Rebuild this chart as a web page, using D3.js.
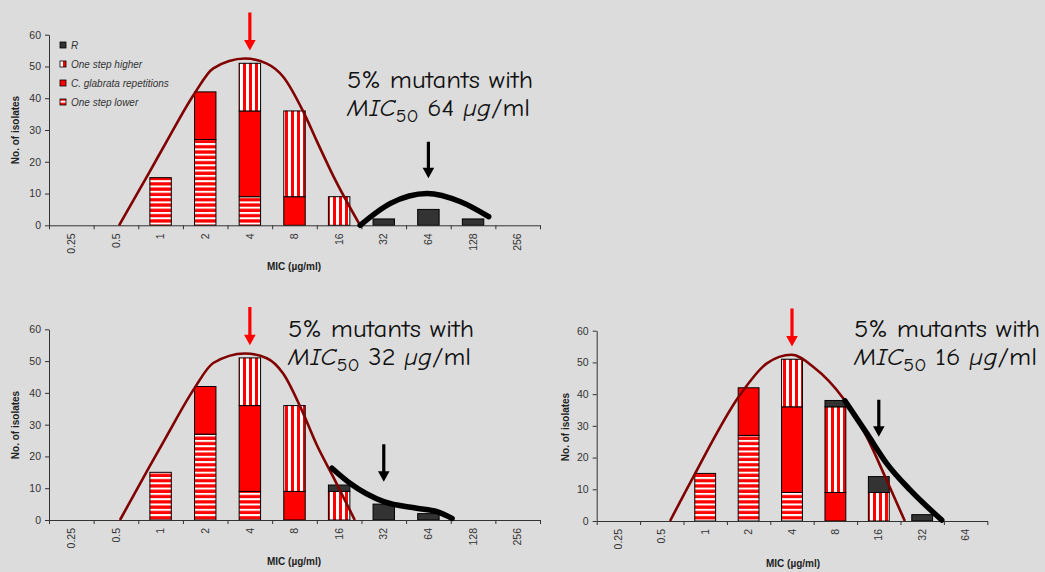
<!DOCTYPE html>
<html>
<head>
<meta charset="utf-8">
<script src="https://cdn.jsdelivr.net/npm/d3@7"></script>
<style>
  body { margin: 0; background: #dcdcdc; }
  svg { display: block; }
</style>
</head>
<body>
<div id="wrapper"></div>
<script>
// categories (MIC, µg/ml)
const catsLong = ["0.25", "0.5", "1", "2", "4", "8", "16", "32", "64", "128", "256"];
const catsShort = ["0.25", "0.5", "1", "2", "4", "8", "16", "32", "64"];

const keys = ["lower", "glabrata", "higher", "r"];
const legendNames = ["R", "One step higher", "C. glabrata repetitions", "One step lower"];

// chart 1 (MIC50 64)
const lower1    = [0, 0, 15, 27, 9, 0, 0, 0, 0, 0, 0];
const glabrata1 = [0, 0, 0, 15, 27, 9, 0, 0, 0, 0, 0];
const higher1   = [0, 0, 0, 0, 15, 27, 9, 0, 0, 0, 0];
const r1        = [0, 0, 0, 0, 0, 0, 0, 2, 5, 2, 0];
// chart 2 (MIC50 32)
const lower2    = [0, 0, 15, 27, 9, 0, 0, 0, 0, 0, 0];
const glabrata2 = [0, 0, 0, 15, 27, 9, 0, 0, 0, 0, 0];
const higher2   = [0, 0, 0, 0, 15, 27, 9, 0, 0, 0, 0];
const r2        = [0, 0, 0, 0, 0, 0, 2, 5, 2, 0, 0];
// chart 3 (MIC50 16)
const lower3    = [0, 0, 15, 27, 9, 0, 0, 0, 0];
const glabrata3 = [0, 0, 0, 15, 27, 9, 0, 0, 0];
const higher3   = [0, 0, 0, 0, 15, 27, 9, 0, 0];
const r3        = [0, 0, 0, 0, 0, 2, 5, 2, 0];

// fitted curves, [category position, count]
const redCurve1 = [[1.57, 0], [2.26, 17], [2.64, 26.5], [3.26, 41.5], [3.68, 49.4], [4.39, 52.5], [4.88, 50.9], [5.25, 46.7], [5.70, 35.7], [6.00, 26.5], [6.37, 15.5], [6.97, 0]];
const redCurve2 = [[1.59, 0], [2.26, 17], [2.64, 26.5], [3.26, 41.5], [3.68, 49.4], [4.39, 52.4], [4.88, 50.9], [5.25, 46], [5.63, 35.6], [6.00, 23.6], [6.37, 13.5], [6.85, 0]];
const redCurve3 = [[1.69, 0], [2.23, 14], [3.30, 39.7], [3.92, 49.7], [4.49, 52.4], [5.00, 48.5], [5.68, 38.7], [6.22, 26.6], [6.68, 12.9], [7.10, 0]];
const blackCurve1 = [[6.97, 0], [7.65, 6.9], [8.47, 10], [9.22, 7.4], [9.85, 2.7]];
const blackCurve2 = [[6.34, 16.3], [6.75, 11.5], [7.50, 5.8], [8.24, 3.7], [8.69, 2.6], [9.03, 0.5]];
const blackCurve3 = [[5.72, 37.9], [6.22, 27.7], [6.68, 18.2], [7.22, 9.8], [7.95, 0.3]];

// arrows: [category, top value, tip value]
const redArrow = ["4", 67, 55];
const blackArrow1 = ["64", 26.3, 14.8];
const blackArrow2 = ["32", 23.8, 12];
const blackArrow3 = ["16", 38.2, 26.6];

const mic50 = ["64", "32", "16"];

const W = 1045, H = 572;
const svg = d3.select("#wrapper").append("svg")
    .attr("width", W)
    .attr("height", H);

svg.append("rect").attr("width", W).attr("height", H).attr("fill", "#dcdcdc");

const defs = svg.append("defs");
const hPat = defs.append("pattern").attr("id", "hstripe")
    .attr("patternUnits", "userSpaceOnUse").attr("width", 6).attr("height", 5.3);
hPat.append("rect").attr("width", 6).attr("height", 5.3).attr("fill", "#ffffff");
hPat.append("rect").attr("y", 2).attr("width", 6).attr("height", 3.3).attr("fill", "#ff0000");
const vPat = defs.append("pattern").attr("id", "vstripe")
    .attr("patternUnits", "userSpaceOnUse").attr("width", 6).attr("height", 6);
vPat.append("rect").attr("width", 6).attr("height", 6).attr("fill", "#ffffff");
vPat.append("rect").attr("x", 3).attr("width", 3.2).attr("height", 6).attr("fill", "#ff0000");

const fills = {lower: "url(#hstripe)", glabrata: "#ff0000", higher: "url(#vstripe)", r: "#333333"};

const charts = [
    {cats: catsLong, lower: lower1, glabrata: glabrata1, higher: higher1, r: r1,
     red: redCurve1, black: blackCurve1, arrow: blackArrow1, mic: mic50[0],
     left: 49, right: 540, top: 34.7, bottom: 225.3,
     note: [347, 88], ylab: [15, 130], xlab: [294, 270], legend: true},
    {cats: catsLong, lower: lower2, glabrata: glabrata2, higher: higher2, r: r2,
     red: redCurve2, black: blackCurve2, arrow: blackArrow2, mic: mic50[1],
     left: 49, right: 540, top: 329.3, bottom: 520,
     note: [288, 337], ylab: [15, 425], xlab: [294, 565], legend: false},
    {cats: catsShort, lower: lower3, glabrata: glabrata3, higher: higher3, r: r3,
     red: redCurve3, black: blackCurve3, arrow: blackArrow3, mic: mic50[2],
     left: 596.7, right: 987.3, top: 330.7, bottom: 521,
     note: [854, 337], ylab: [565, 427], xlab: [793, 567], legend: false},
];

function arrowPath(x, yTop, yTip) {
    const s = 1.6, hw = 5.8, hh = 10.5;
    return `M${x - s},${yTop} L${x + s},${yTop} L${x + s},${yTip - hh} L${x + hw},${yTip - hh} ` +
        `L${x},${yTip} L${x - hw},${yTip - hh} L${x - s},${yTip - hh} Z`;
}

function drawChart(cfg) {
    const n = cfg.cats.length;
    const g = svg.append("g");

    const xBand = d3.scaleBand()
        .domain(cfg.cats)
        .range([cfg.left, cfg.right])
        .paddingInner(0.52)
        .paddingOuter(0.26);
    const xPos = d3.scaleLinear().domain([0, n]).range([cfg.left, cfg.right]);
    const y = d3.scaleLinear().domain([0, 60]).range([cfg.bottom, cfg.top]);
    const xMid = c => xBand(c) + xBand.bandwidth() / 2;

    // bars
    const rows = cfg.cats.map((c, i) => ({
        cat: c, lower: cfg.lower[i], glabrata: cfg.glabrata[i], higher: cfg.higher[i], r: cfg.r[i]
    }));
    const stacked = d3.stack().keys(keys)(rows);
    stacked.forEach(layer => {
        g.append("g").selectAll("rect")
            .data(layer.filter(d => d[1] > d[0]))
            .join("rect")
            .attr("x", d => xBand(d.data.cat))
            .attr("y", d => y(d[1]))
            .attr("width", xBand.bandwidth())
            .attr("height", d => y(d[0]) - y(d[1]))
            .attr("fill", fills[layer.key])
            .attr("stroke", "#000")
            .attr("stroke-width", 1);
    });

    // axes
    const yAxis = g.append("g")
        .attr("transform", `translate(${cfg.left},0)`)
        .call(d3.axisLeft(y).tickValues(d3.range(0, 61, 10)).tickSize(4).tickPadding(4).tickSizeOuter(0));
    const xAxis = g.append("g")
        .attr("transform", `translate(0,${cfg.bottom})`)
        .call(d3.axisBottom(xPos).tickValues(d3.range(n + 1)).tickSize(4).tickFormat("").tickSizeOuter(0));
    [yAxis, xAxis].forEach(a => {
        a.select(".domain").attr("stroke", "#333");
        a.selectAll(".tick line").attr("stroke", "#333");
        a.selectAll("text")
            .attr("fill", "#333")
            .attr("font-family", "'Liberation Sans', Arial, sans-serif")
            .attr("font-size", "10.5px");
    });

    g.append("g").selectAll("text")
        .data(cfg.cats)
        .join("text")
        .attr("transform", c => `translate(${xMid(c)},${cfg.bottom + 8}) rotate(-90)`)
        .attr("dy", "0.35em")
        .attr("text-anchor", "end")
        .attr("fill", "#333")
        .attr("font-family", "'Liberation Sans', Arial, sans-serif")
        .attr("font-size", "10.5px")
        .text(c => c);

    g.append("text")
        .attr("transform", `translate(${cfg.ylab[0]},${cfg.ylab[1]}) rotate(-90)`)
        .attr("dy", "0.35em")
        .attr("text-anchor", "middle")
        .attr("font-family", "'Liberation Sans', Arial, sans-serif")
        .attr("font-weight", "bold")
        .attr("font-size", "10px")
        .attr("fill", "#222")
        .text("No. of isolates");

    g.append("text")
        .attr("x", cfg.xlab[0])
        .attr("y", cfg.xlab[1])
        .attr("text-anchor", "middle")
        .attr("font-family", "'Liberation Sans', Arial, sans-serif")
        .attr("font-weight", "bold")
        .attr("font-size", "10px")
        .attr("fill", "#222")
        .text("MIC (µg/ml)");

    // fitted curves
    const line = d3.line()
        .x(d => xPos(d[0]))
        .y(d => y(d[1]))
        .curve(d3.curveMonotoneX);
    g.append("path")
        .attr("d", line(cfg.red))
        .attr("fill", "none")
        .attr("stroke", "#800000")
        .attr("stroke-width", 2.6);
    g.append("path")
        .attr("d", line(cfg.black))
        .attr("fill", "none")
        .attr("stroke", "#000")
        .attr("stroke-width", 5.5)
        .attr("stroke-linecap", "round");

    // arrows
    g.append("path")
        .attr("d", arrowPath(xMid(redArrow[0]), y(redArrow[1]), y(redArrow[2])))
        .attr("fill", "#ff0000");
    g.append("path")
        .attr("d", arrowPath(xMid(cfg.arrow[0]), y(cfg.arrow[1]), y(cfg.arrow[2])))
        .attr("fill", "#000");

    // note
    const note = g.append("g")
        .attr("font-family", "'Comic Sans MS', 'Comic Neue', 'DejaVu Sans', sans-serif")
        .attr("fill", "#111");
    note.append("text")
        .attr("x", cfg.note[0])
        .attr("y", cfg.note[1])
        .attr("font-size", "24px")
        .attr("textLength", 186)
        .attr("lengthAdjust", "spacingAndGlyphs")
        .text("5% mutants with");
    const t2 = note.append("text")
        .attr("x", cfg.note[0])
        .attr("y", cfg.note[1] + 28)
        .attr("font-size", "24px")
        .attr("textLength", 183)
        .attr("lengthAdjust", "spacingAndGlyphs");
    t2.append("tspan").attr("font-style", "italic").text("MIC");
    t2.append("tspan").attr("font-size", "18px").attr("dy", 6).text("50");
    t2.append("tspan").attr("dy", -6).text(` ${cfg.mic} `);
    t2.append("tspan").attr("font-style", "italic").text("µg");
    t2.append("tspan").text("/ml");

    // legend
    if (cfg.legend) {
        const legFill = {"R": fills.r, "One step higher": fills.higher,
            "C. glabrata repetitions": fills.glabrata, "One step lower": fills.lower};
        const leg = g.append("g");
        legendNames.forEach((name, i) => {
            const ly = 45 + i * 19;
            leg.append("rect")
                .attr("x", 60).attr("y", ly - 3)
                .attr("width", 6).attr("height", 6)
                .attr("fill", legFill[name])
                .attr("stroke", "#000").attr("stroke-width", 0.8);
            leg.append("text")
                .attr("x", 71).attr("y", ly)
                .attr("dy", "0.35em")
                .attr("font-family", "'Liberation Sans', Arial, sans-serif")
                .attr("font-style", "italic")
                .attr("font-size", "10px")
                .attr("fill", "#333")
                .text(name);
        });
    }
}

charts.forEach(drawChart);
</script>
</body>
</html>
